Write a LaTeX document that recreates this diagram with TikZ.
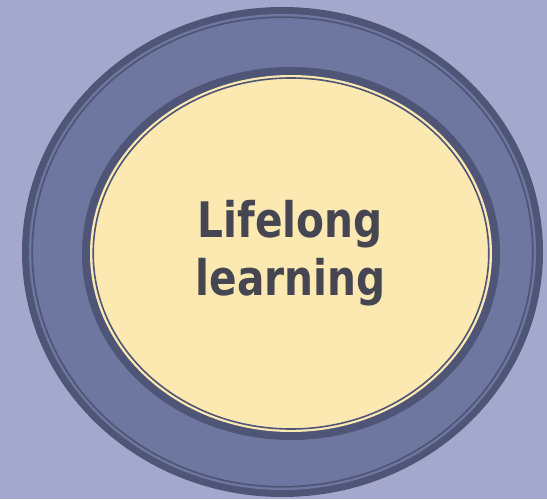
\documentclass[tikz,border=0pt]{standalone}
\usepackage{fontspec}
\newfontfamily\labelfont{DejaVu Sans}
\definecolor{bgc}{RGB}{163,168,204}
\definecolor{ringdark}{RGB}{78,85,119}
\definecolor{ringmid}{RGB}{110,119,159}
\definecolor{creamc}{RGB}{252,233,178}
\definecolor{textc}{RGB}{69,70,82}
\tikzset{
  thinring/.style={draw=ringdark, line width=1.7pt},
  bigtext/.style={text=textc, inner sep=0pt, anchor=base, xscale=0.83,
    font=\labelfont\bfseries\fontsize{49}{57}\selectfont}
}
\begin{document}
\begin{tikzpicture}[x=1pt,y=1pt]
\useasboundingbox (0,0) rectangle (547,499);
\fill[bgc] (0,0) rectangle (547,499);
% outer ring
\fill[ringdark] (282.5,247) ellipse [x radius=260.5, y radius=245];
\fill[ringmid] (282.5,247) ellipse [x radius=253.5, y radius=238];
\draw[thinring] (282.5,247) ellipse [x radius=250.3, y radius=234.8];
% inner disc
\fill[ringdark] (291,245.5) ellipse [x radius=209, y radius=186.5];
\fill[creamc] (291,245.5) ellipse [x radius=201, y radius=178.5];
\draw[thinring, line width=1.6pt] (291,245.5) ellipse [x radius=197.8, y radius=175.5];
\node[bigtext] (line1) at (290,261) {Lifelong};
\node[bigtext] (line2) at (290.5,204) {learning};
\end{tikzpicture}
\end{document}
